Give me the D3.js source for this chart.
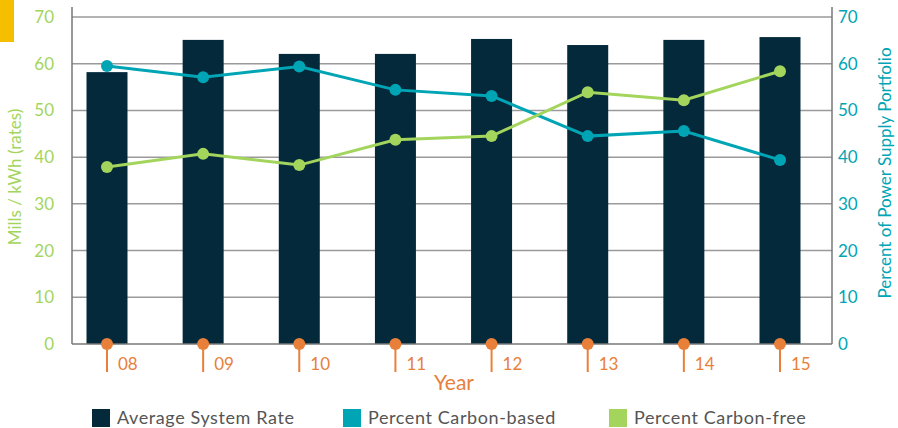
<!DOCTYPE html>
<html>
<head>
<meta charset="utf-8">
<script src="https://cdn.jsdelivr.net/npm/d3@7"></script>
<style>
  body { margin: 0; background: #fff; }
  svg { font-family: Lato, "Open Sans", sans-serif; }
</style>
</head>
<body>
<svg id="chart"></svg>
<script>
const years = ["08", "09", "10", "11", "12", "13", "14", "15"];
const avgRate = [58.2, 65.1, 62.1, 62.1, 65.3, 64.0, 65.1, 65.7];
const carbonBased = [59.5, 57.1, 59.4, 54.4, 53.1, 44.5, 45.6, 39.4];
const carbonFree = [37.9, 40.7, 38.3, 43.7, 44.5, 53.9, 52.2, 58.4];
const yTicks = [0, 10, 20, 30, 40, 50, 60, 70];
const legendItems = [
  { label: "Average System Rate", color: "#04293b" },
  { label: "Percent Carbon-based", color: "#00a5b5" },
  { label: "Percent Carbon-free", color: "#a3d55d" },
];

const width = 898, height = 428;
const plotLeft = 72, plotRight = 832, plotTop = 17, plotBottom = 344;
const orange = "#e8803a";

const svg = d3.select("#chart").attr("width", width).attr("height", height);

// yellow tab top-left
svg.append("rect").attr("x", 0).attr("y", 0).attr("width", 14).attr("height", 42).attr("fill", "#f6be00");

const x = d3.scalePoint().domain(years).range([107, 780]);
const yL = d3.scaleLinear().domain([0, 70]).range([plotBottom, plotTop]);
const yR = d3.scaleLinear().domain([0, 70]).range([plotBottom, plotTop]);

// gridlines
svg.append("g")
  .selectAll("line")
  .data(yTicks.filter((d) => d > 0))
  .join("line")
  .attr("x1", plotLeft)
  .attr("x2", plotRight)
  .attr("y1", (d) => yL(d))
  .attr("y2", (d) => yL(d))
  .attr("stroke", "#9a9a9a")
  .attr("stroke-width", 1.5);

// bars
const barW = 41;
svg.append("g")
  .selectAll("rect")
  .data(avgRate)
  .join("rect")
  .attr("x", (d, i) => x(years[i]) - barW / 2)
  .attr("y", (d) => yL(d))
  .attr("width", barW)
  .attr("height", (d) => plotBottom - yL(d))
  .attr("fill", "#04293b");

// axis frame lines
svg.append("line").attr("x1", plotLeft).attr("x2", plotLeft).attr("y1", 7).attr("y2", plotBottom)
  .attr("stroke", "#777").attr("stroke-width", 1.5);
svg.append("line").attr("x1", plotRight).attr("x2", plotRight).attr("y1", 7).attr("y2", plotBottom)
  .attr("stroke", "#777").attr("stroke-width", 1.5);
svg.append("line").attr("x1", plotLeft).attr("x2", plotRight).attr("y1", plotBottom).attr("y2", plotBottom)
  .attr("stroke", "#777").attr("stroke-width", 1.5);

// tick labels
const axL = svg.append("g").attr("transform", `translate(${plotLeft},0)`)
  .call(d3.axisLeft(yL).tickValues(yTicks).tickSize(0).tickPadding(18));
axL.select(".domain").remove();
axL.selectAll("text").attr("fill", "#a3d55d").style("font-size", "17px").style("font-family", "Lato, sans-serif");

const axR = svg.append("g").attr("transform", `translate(${plotRight},0)`)
  .call(d3.axisRight(yR).tickValues(yTicks).tickSize(0).tickPadding(6));
axR.select(".domain").remove();
axR.selectAll("text").attr("fill", "#00a5b5").style("font-size", "17px").style("font-family", "Lato, sans-serif");

// axis titles
svg.append("text")
  .attr("transform", `translate(21, 177) rotate(-90)`)
  .attr("text-anchor", "middle")
  .attr("fill", "#a3d55d")
  .style("font-size", "17px")
  .text("Mills / kWh (rates)");

svg.append("text")
  .attr("transform", `translate(891, 173) rotate(-90)`)
  .attr("text-anchor", "middle")
  .attr("fill", "#00a5b5")
  .style("font-size", "17px")
  .text("Percent of Power Supply Portfolio");

// lines
const series = [
  { values: carbonBased, color: "#00a5b5" },
  { values: carbonFree, color: "#a3d55d" },
];
series.forEach((s) => {
  const line = d3.line().x((d, i) => x(years[i])).y((d) => yR(d));
  svg.append("path")
    .datum(s.values)
    .attr("d", line)
    .attr("fill", "none")
    .attr("stroke", s.color)
    .attr("stroke-width", 3);
  svg.append("g")
    .selectAll("circle")
    .data(s.values)
    .join("circle")
    .attr("cx", (d, i) => x(years[i]))
    .attr("cy", (d) => yR(d))
    .attr("r", 6)
    .attr("fill", s.color);
});

// year markers
const yr = svg.append("g").selectAll("g").data(years).join("g")
  .attr("transform", (d) => `translate(${x(d)},${plotBottom})`);
yr.append("line").attr("x1", 0).attr("x2", 0).attr("y1", 0).attr("y2", 28)
  .attr("stroke", orange).attr("stroke-width", 2);
yr.append("circle").attr("r", 6).attr("fill", orange);
yr.append("text").attr("x", 11).attr("y", 26)
  .attr("fill", orange).style("font-size", "17px").text((d) => d);

svg.append("text")
  .attr("x", 454).attr("y", 390)
  .attr("text-anchor", "middle")
  .attr("fill", orange)
  .style("font-size", "21px")
  .text("Year");

// legend
const legX = [92, 343, 609];
const lg = svg.append("g").selectAll("g").data(legendItems).join("g")
  .attr("transform", (d, i) => `translate(${legX[i]},409)`);
lg.append("rect").attr("width", 18).attr("height", 18).attr("fill", (d) => d.color);
lg.append("text").attr("x", 25).attr("y", 15)
  .attr("fill", "#555").style("font-size", "18px").style("letter-spacing", "0.6px")
  .text((d) => d.label);
</script>
</body>
</html>
